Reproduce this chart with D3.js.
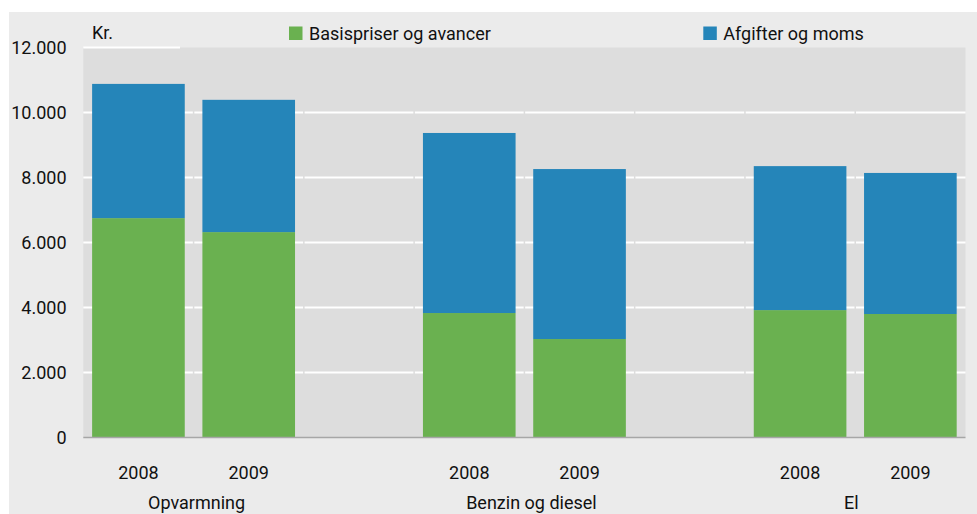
<!DOCTYPE html>
<html>
<head>
<meta charset="utf-8">
<script src="https://cdn.jsdelivr.net/npm/d3@7"></script>
<style>
  html, body { margin: 0; padding: 0; background: #ffffff; }
  svg { display: block; }
  text { font-family: Roboto, "Open Sans", sans-serif; fill: #111; }
</style>
</head>
<body>
<svg id="chart" width="977" height="514"></svg>
<script>
// ---- data ----
const groups = ["Opvarmning", "Benzin og diesel", "El"];
const years = ["2008", "2009"];
const seriesNames = ["Basispriser og avancer", "Afgifter og moms"];
const basis = [6750, 6320, 3830, 3030, 3920, 3800];      // green
const totals = [10880, 10390, 9370, 8260, 8350, 8140];   // bar top
const yTicks = [0, 2000, 4000, 6000, 8000, 10000, 12000];
const yTickLabels = ["0", "2.000", "4.000", "6.000", "8.000", "10.000", "12.000"];
const unitLabel = "Kr.";

const colors = ["#6ab150", "#2585b9"];
const groupLabelShift = [3, 7, -4];

// slots: each group has 2 years, empty slot between groups
const slots = [];
groups.forEach((g, gi) => {
  years.forEach((y, yi) => slots.push({key: g + "|" + y, group: g, year: y, idx: gi * 2 + yi}));
  if (gi < groups.length - 1) slots.push({key: "gap" + gi, gap: true});
});

const svg = d3.select("#chart");
const W = 977, H = 514;
const plot = {left: 83.3, right: 965.5, top: 47.5, bottom: 437.5};

// backgrounds
svg.append("rect").attr("x", 9).attr("y", 12).attr("width", W - 9).attr("height", H - 12).attr("fill", "#ebebeb");
svg.append("rect").attr("x", plot.left).attr("y", plot.top)
  .attr("width", plot.right - plot.left).attr("height", plot.bottom - plot.top).attr("fill", "#dddddd");

const x = d3.scaleBand().domain(slots.map(s => s.key))
  .range([plot.left, plot.right]).paddingInner(0.16).paddingOuter(0.08);
const y = d3.scaleLinear().domain([0, 12000]).range([plot.bottom, plot.top]);

// gridlines, broken at slot boundaries
const step = x.step();
const boundaries = d3.range(slots.length + 1).map(i => plot.left + i * step);
yTicks.filter(t => t > 0).forEach(t => {
  const gy = y(t);
  for (let i = 0; i < slots.length; i++) {
    let x0 = boundaries[i] + (i === 0 ? 0 : 0.75);
    let x1 = boundaries[i + 1] - (i === slots.length - 1 ? 0 : 0.75);
    if (t === 12000) { // only the part not hidden by the legend band
      if (x0 > 180) continue;
      x1 = Math.min(x1, 180);
    }
    svg.append("line").attr("x1", x0).attr("x2", x1).attr("y1", gy).attr("y2", gy)
      .attr("stroke", "#ffffff").attr("stroke-width", 2);
  }
});

// bars
const barSlots = slots.filter(s => !s.gap);
const stackData = barSlots.map(s => ({key: s.key, basis: basis[s.idx], tax: totals[s.idx] - basis[s.idx]}));
const stack = d3.stack().keys(["basis", "tax"])(stackData);
stack.forEach((layer, li) => {
  svg.append("g").selectAll("rect").data(layer).join("rect")
    .attr("x", d => x(d.data.key))
    .attr("width", x.bandwidth())
    .attr("y", d => y(d[1]))
    .attr("height", d => y(d[0]) - y(d[1]))
    .attr("fill", colors[li]);
});

// baseline
svg.append("line").attr("x1", plot.left).attr("x2", plot.right)
  .attr("y1", y(0)).attr("y2", y(0)).attr("stroke", "#a6a6a6").attr("stroke-width", 1.5);

// y axis labels
const yAxis = d3.axisLeft(y).tickValues(yTicks).tickSize(0).tickPadding(0)
  .tickFormat((d, i) => yTickLabels[i]);
const ya = svg.append("g").attr("transform", "translate(66.5,0)").call(yAxis);
ya.select(".domain").remove();
ya.selectAll("text").attr("font-size", 18).attr("font-family", "Roboto, 'Open Sans', sans-serif")
  .attr("fill", "#111").attr("dy", "0.36em");

// unit label
svg.append("text").attr("x", 92).attr("y", 39).attr("font-size", 18).text(unitLabel);

// x axis: years and groups
const xAxis = d3.axisBottom(x).tickValues(barSlots.map(s => s.key)).tickSize(0).tickPadding(0)
  .tickFormat(k => k.split("|")[1]);
const xa = svg.append("g").attr("transform", `translate(0,${y(0)})`).call(xAxis);
xa.select(".domain").remove();
xa.selectAll("text").attr("font-size", 18).attr("font-family", "Roboto, 'Open Sans', sans-serif")
  .attr("fill", "#111").attr("dy", 0).attr("y", 41);

groups.forEach((g, gi) => {
  const a = x(g + "|" + years[0]) + x.bandwidth() / 2;
  const b = x(g + "|" + years[1]) + x.bandwidth() / 2;
  svg.append("text").attr("x", (a + b) / 2 + groupLabelShift[gi]).attr("y", 509).attr("text-anchor", "middle")
    .attr("font-size", 18).text(g);
});

// legend
const legendPos = [289, 703.3];
seriesNames.forEach((n, i) => {
  svg.append("rect").attr("x", legendPos[i]).attr("y", 26.5).attr("width", 13.5).attr("height", 13.5)
    .attr("fill", colors[i]);
  svg.append("text").attr("x", legendPos[i] + 20).attr("y", 39.5).attr("font-size", 18).text(n);
});
</script>
</body>
</html>
